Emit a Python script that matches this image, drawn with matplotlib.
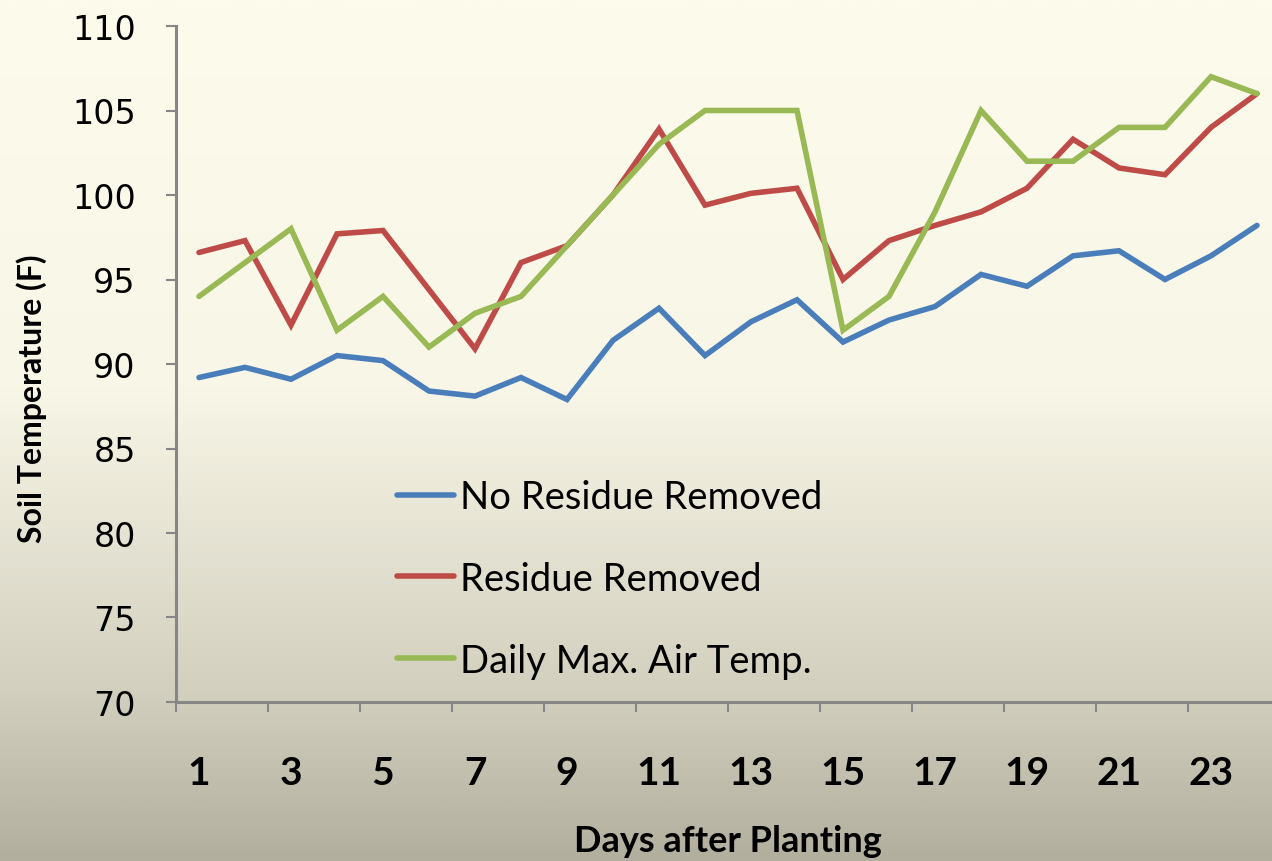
import numpy as np
import matplotlib
matplotlib.use("Agg")
import matplotlib.pyplot as plt
from matplotlib.colors import LinearSegmentedColormap

# days after planting
days = list(range(1, 25))

# soil temperature readings (F)
no_residue_removed = [89.2, 89.8, 89.1, 90.5, 90.2, 88.4, 88.1, 89.2, 87.9, 91.4,
                      93.3, 90.5, 92.5, 93.8, 91.3, 92.6, 93.4, 95.3, 94.6, 96.4,
                      96.7, 95.0, 96.4, 98.2]
residue_removed = [96.6, 97.3, 92.3, 97.7, 97.9, 94.4, 90.9, 96.0, 97.0, 100.0,
                   103.9, 99.4, 100.1, 100.4, 95.0, 97.3, 98.2, 99.0, 100.4, 103.3,
                   101.6, 101.2, 104.0, 106.0]
daily_max_air = [94, 96, 98, 92, 94, 91, 93, 94, 97, 100,
                 103, 105, 105, 105, 92, 94, 99, 105, 102, 102,
                 104, 104, 107, 106]

series_names = ["No Residue Removed", "Residue Removed", "Daily Max. Air Temp."]
series_colors = ["#4A7EBB", "#BE4B48", "#98B954"]

ytick_values = list(range(70, 111, 5))
xtick_labels = [str(d) for d in days if d % 2 == 1]

fig = plt.figure(figsize=(12.72, 8.62), dpi=100)

# gradient background
bg = fig.add_axes([0, 0, 1, 1], zorder=0)
bg_cmap = LinearSegmentedColormap.from_list(
    "bg", [(0.0, "#FDFBEC"), (0.45, "#F8F6E6"), (0.8, "#D3D0C0"), (1.0, "#B2AF9E")])
grad = np.linspace(0, 1, 400).reshape(-1, 1)
bg.imshow(grad, aspect="auto", cmap=bg_cmap, extent=[0, 1, 1, 0])
bg.set_axis_off()

ax = fig.add_axes([176 / 1272, 1 - 703 / 862, 1104 / 1272, 676 / 862], zorder=1)
ax.patch.set_alpha(0)

for vals, name, col in zip([no_residue_removed, residue_removed, daily_max_air],
                           series_names, series_colors):
    ax.plot(days, vals, color=col, lw=4.0, label=name, solid_capstyle="round",
            solid_joinstyle="miter")

ax.set_xlim(0.5, 24.5)
ax.set_ylim(70, 110)

ax.spines["top"].set_visible(False)
ax.spines["right"].set_visible(False)
for s in ["left", "bottom"]:
    ax.spines[s].set_color("#868686")
    ax.spines[s].set_linewidth(2.2)

ax.set_yticks(ytick_values)
ax.set_yticklabels([str(v) for v in ytick_values], fontsize=24,
                   family="DejaVu Sans")
ax.tick_params(axis="y", length=7, width=1.5, color="#868686", pad=22)

# category boundary ticks every 2 days, labels on odd days
ax.set_xticks(np.arange(0.5, 25, 2))
ax.set_xticklabels([])
ax.tick_params(axis="x", which="major", length=7, width=1.5, color="#868686")
ax.set_xticks([d for d in days if d % 2 == 1], minor=True)
ax.set_xticklabels(xtick_labels, minor=True, fontsize=28, fontweight="bold",
                   family="Lato")
ax.tick_params(axis="x", which="minor", length=0, pad=38)

ax.set_xlabel("Days after Planting", fontsize=26, fontweight="bold",
              family="Lato")
ax.xaxis.set_label_coords(0.5, -0.18)
ax.set_ylabel("Soil Temperature (F)", fontsize=23, fontweight="bold",
              family="Lato")
ax.yaxis.set_label_coords(-0.117, 0.45)

leg = ax.legend(loc="upper left", bbox_to_anchor=(0.2, 0.33), frameon=False,
                prop={"family": "Lato", "size": 27.5}, handlelength=1.5,
                handletextpad=0.15, labelspacing=1.2, borderpad=0,
                borderaxespad=0)

fig.savefig("out.png", dpi=100)
